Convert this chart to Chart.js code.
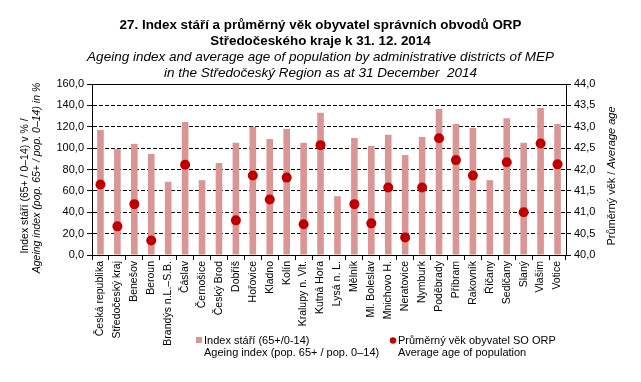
<!DOCTYPE html>
<html lang="cs">
<head>
    <meta charset="UTF-8">
    <title>Index stáří a průměrný věk</title>
    <script src="https://cdn.jsdelivr.net/npm/chart.js"></script>
    <style>
        html, body { margin: 0; padding: 0; background: #fff; }
        #wrap { width: 641px; height: 382px; position: relative; }
    </style>
</head>
<body>
    <div id="wrap"><canvas id="chart"></canvas></div>

    <script>
        // kategorie (ORP)
        var districts = ['Česká republika', 'Středočeský kraj', 'Benešov', 'Beroun', 'Brandýs n.L.–S.B.', 'Čáslav',
            'Černošice', 'Český Brod', 'Dobříš', 'Hořovice', 'Kladno', 'Kolín', 'Kralupy n. Vlt.', 'Kutná Hora',
            'Lysá n. L.', 'Mělník', 'Ml. Boleslav', 'Mnichovo H.', 'Neratovice', 'Nymburk', 'Poděbrady', 'Příbram',
            'Rakovník', 'Říčany', 'Sedlčany', 'Slaný', 'Vlašim', 'Votice'];

        // index stáří (65+/0-14) v %
        var ageingIndex = [117, 99, 104, 94.5, 68.5, 124.5, 70, 86, 105, 120, 108.5, 118, 105, 133,
            55, 109.5, 102, 112.5, 93.5, 110.5, 136.5, 122.5, 119, 70, 128, 105, 137.5, 122.5];

        // průměrný věk (null = pod 40 let, mimo osu)
        var averageAge = [41.65, 40.67, 41.19, 40.34, null, 42.11, null, null, 40.81, 41.86, 41.30, 41.81, 40.72, 42.57,
            null, 41.19, 40.74, 41.58, 40.41, 41.58, 42.73, 42.22, 41.86, null, 42.17, 41.00, 42.61, 42.12];

        var leftTicks = [0, 20, 40, 60, 80, 100, 120, 140, 160];
        var rightTicks = [40, 40.5, 41, 41.5, 42, 42.5, 43, 43.5, 44];

        var FONT = 'Liberation Sans, Arial, sans-serif';

        function comma(v) {
            return v.toFixed(1).replace('.', ',');
        }

        function vText(ctx, text, x, y, font) {
            ctx.save();
            ctx.translate(x, y);
            ctx.rotate(-Math.PI / 2);
            ctx.font = font;
            ctx.fillText(text, 0, 0);
            ctx.restore();
        }

        // osy popisky, legenda, plná horní čára
        var extras = {
            id: 'extras',
            afterDraw: function(chart) {
                var ctx = chart.ctx;
                var area = chart.chartArea;
                var y = chart.scales.y;
                ctx.save();

                // horní mřížka plná
                ctx.strokeStyle = '#000';
                ctx.lineWidth = 1;
                ctx.beginPath();
                var top = Math.round(y.getPixelForValue(160)) + 0.5;
                ctx.moveTo(area.left, top);
                ctx.lineTo(area.right, top);
                ctx.stroke();

                ctx.fillStyle = '#000';
                ctx.textAlign = 'center';
                ctx.textBaseline = 'middle';

                // levá osa
                vText(ctx, 'Index stáří (65+ / 0–14) v % /', 25, 186, '10.5px ' + FONT);
                vText(ctx, 'Ageing index (pop. 65+ / pop. 0–14) in %', 37, 178, 'italic 10.5px ' + FONT);

                // pravá osa
                ctx.save();
                ctx.translate(612, 176);
                ctx.rotate(-Math.PI / 2);
                var a = 'Průměrný věk / ';
                var b = 'Average age';
                ctx.font = '11px ' + FONT;
                var wa = ctx.measureText(a).width;
                ctx.font = 'italic 11px ' + FONT;
                var wb = ctx.measureText(b).width;
                ctx.textAlign = 'left';
                ctx.font = '11px ' + FONT;
                ctx.fillText(a, -(wa + wb) / 2, 0);
                ctx.font = 'italic 11px ' + FONT;
                ctx.fillText(b, -(wa + wb) / 2 + wa, 0);
                ctx.restore();

                // legenda
                ctx.textAlign = 'left';
                ctx.font = '11px ' + FONT;
                ctx.fillStyle = 'rgb(217,150,148)';
                ctx.fillRect(196, 337, 6, 6);
                ctx.fillStyle = '#000';
                ctx.fillText('Index stáří (65+/0-14)', 204, 341);
                ctx.fillText('Ageing index (pop. 65+ / pop. 0–14)', 204, 352.5);
                ctx.fillStyle = '#C00000';
                ctx.beginPath();
                ctx.arc(393, 340.5, 3.2, 0, Math.PI * 2);
                ctx.fill();
                ctx.fillStyle = '#000';
                ctx.fillText('Průměrný věk obyvatel SO ORP', 398, 341);
                ctx.fillText('Average age of population', 398, 352.5);

                ctx.restore();
            }
        };

        var ctx = document.getElementById('chart').getContext('2d');
        var chart = new Chart(ctx, {
            data: {
                labels: districts,
                datasets: [
                    {
                        type: 'line',
                        label: 'Průměrný věk obyvatel SO ORP',
                        data: averageAge,
                        yAxisID: 'y1',
                        showLine: false,
                        pointRadius: 5,
                        pointBorderWidth: 0,
                        pointBackgroundColor: '#C00000',
                        borderColor: '#C00000',
                        order: 0
                    },
                    {
                        type: 'bar',
                        label: 'Index stáří (65+/0-14)',
                        data: ageingIndex,
                        yAxisID: 'y',
                        backgroundColor: 'rgb(217,150,148)',
                        barPercentage: 0.39,
                        categoryPercentage: 1,
                        order: 1
                    }
                ]
            },
            options: {
                responsive: true,
                maintainAspectRatio: false,
                animation: false,
                layout: { padding: 0 },
                plugins: {
                    legend: { display: false },
                    tooltip: { enabled: false },
                    title: {
                        display: true,
                        text: ['27. Index stáří a průměrný věk obyvatel správních obvodů ORP', 'Středočeského kraje k 31. 12. 2014'],
                        color: '#000',
                        font: { family: FONT, size: 13.4, weight: 'bold', lineHeight: '16px' },
                        padding: { top: 17, bottom: 0 }
                    },
                    subtitle: {
                        display: true,
                        text: ['Ageing index and average age of population by administrative districts of MEP', 'in the Středočeský Region as at 31 December  2014'],
                        color: '#000',
                        font: { family: FONT, size: 13.5, style: 'italic', lineHeight: '16px' },
                        padding: { top: 0, bottom: 3 }
                    }
                },
                scales: {
                    x: {
                        offset: true,
                        grid: { offset: true, drawOnChartArea: false, color: '#000', tickLength: 5 },
                        border: { color: '#000' },
                        ticks: {
                            autoSkip: false,
                            maxRotation: 90,
                            minRotation: 90,
                            padding: 1,
                            color: '#000',
                            font: { family: FONT, size: 10.5 }
                        },
                        afterFit: function(scale) { scale.height = 127; }
                    },
                    y: {
                        position: 'left',
                        min: 0,
                        max: 160,
                        afterBuildTicks: function(scale) {
                            scale.ticks = leftTicks.map(function(v) { return { value: v }; });
                        },
                        grid: {
                            color: function(c) {
                                var v = c.tick ? c.tick.value : 0;
                                return (v === 0 || v === 160) ? 'rgba(0,0,0,0)' : '#000';
                            },
                            tickColor: '#000',
                            tickLength: 5,
                            tickBorderDash: []
                        },
                        border: { color: '#000', dash: [4, 2] },
                        ticks: {
                            padding: 3,
                            color: '#000',
                            font: { family: FONT, size: 11 },
                            callback: function(v) { return comma(v); }
                        },
                        afterFit: function(scale) { scale.width = 92; }
                    },
                    y1: {
                        position: 'right',
                        min: 40,
                        max: 44,
                        afterBuildTicks: function(scale) {
                            scale.ticks = rightTicks.map(function(v) { return { value: v }; });
                        },
                        grid: { drawOnChartArea: false, color: '#000', tickLength: 5 },
                        border: { color: '#000' },
                        ticks: {
                            padding: 3,
                            color: '#000',
                            font: { family: FONT, size: 11 },
                            callback: function(v) { return comma(v); }
                        },
                        afterFit: function(scale) { scale.width = 75; }
                    }
                }
            },
            plugins: [extras]
        });
    </script>
</body>
</html>
